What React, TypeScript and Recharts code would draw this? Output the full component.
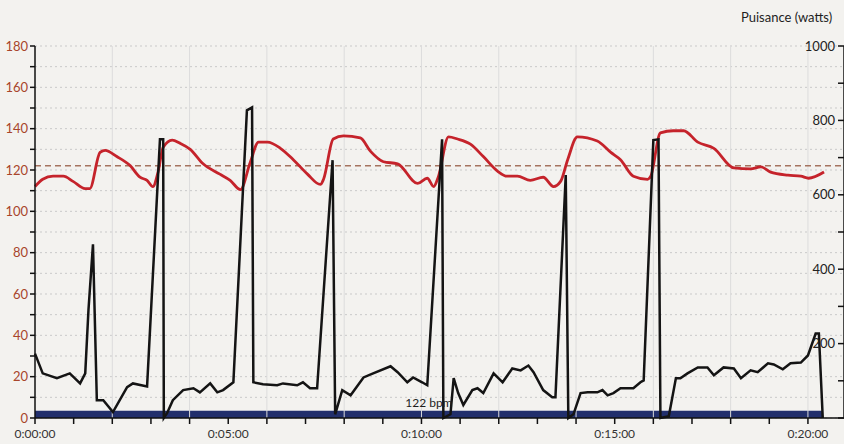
import { LineChart, Line, XAxis, YAxis, CartesianGrid, ReferenceLine, ReferenceArea } from 'recharts'

// heart rate, seconds since start -> bpm
const hrSeconds = [
  0, 12, 28, 44, 59, 78, 85, 101, 109, 127, 148, 163, 174, 183, 191, 199, 213, 225, 241, 261,
  287, 303, 319, 334, 347, 361, 381, 401, 423, 443, 448, 463, 479, 505, 521, 541, 563, 594, 609, 619,
  626, 642, 656, 676, 696, 718, 733, 749, 769, 789, 805, 816, 827, 842, 873, 894, 909, 929, 951, 956,
  971, 991, 1007, 1029, 1054, 1085, 1111, 1127, 1142, 1169, 1189, 1201, 1225,
]
const hrBpm = [
  112, 115.5, 117, 117, 114.5, 111, 111, 128.5, 129.5, 126.5, 122, 116.5, 115, 112, 119, 131, 134.5, 133, 130, 123,
  118, 115, 110.5, 123.5, 133.5, 133.5, 130.5, 125, 118, 113, 115.5, 135, 136.5, 135.5, 129, 124, 123, 113.5, 116, 112,
  116.5, 136, 135, 132.5, 126.5, 119.5, 117, 117, 115, 116.5, 112, 114.5, 125, 136, 134, 128.5, 125, 117, 115.5, 117,
  138, 139, 139, 133.5, 130.5, 121, 120.5, 121.5, 119, 117.5, 117, 116, 119,
]

// power, seconds since start -> watts
const powerSeconds = [
  0, 12, 34, 54, 70, 78, 83, 90, 96, 106, 121, 143, 152, 174, 194, 199, 200, 205, 214, 230, 246,
  256, 272, 283, 292, 308, 329, 337, 339, 354, 376, 385, 407, 416, 427, 438, 462, 466, 477, 490, 510,
  525, 552, 563, 578, 587, 601, 609, 632, 634, 645, 650, 657, 665, 679, 687, 696, 712, 726, 741, 754,
  766, 774, 789, 803, 808, 824, 828, 836, 847, 858, 873, 881, 889, 898, 909, 929, 940, 945, 960, 968,
  971, 984, 995, 1002, 1013, 1029, 1044, 1054, 1069, 1085, 1096, 1111, 1122, 1138, 1147, 1161, 1173, 1189, 1200, 1212,
  1217, 1223,
]
const powerWatts = [
  173, 120, 107, 120, 93, 120, 290, 467, 48, 48, 16, 83, 93, 85, 749, 749, 0, 13, 48, 75, 80,
  69, 93, 69, 75, 96, 827, 835, 96, 91, 88, 93, 88, 96, 80, 80, 693, 10, 75, 61, 109,
  120, 139, 123, 96, 109, 96, 88, 749, 0, 10, 107, 67, 35, 75, 80, 67, 120, 96, 133, 128,
  141, 123, 75, 56, 56, 653, 0, 10, 67, 69, 69, 75, 61, 67, 80, 80, 96, 101, 747, 749,
  0, 5, 107, 107, 120, 136, 136, 115, 136, 133, 107, 128, 123, 147, 144, 131, 147, 149, 168, 227,
  227, 0,
]

const bpmTicks = [0, 10, 20, 30, 40, 50, 60, 70, 80, 90, 100, 110, 120, 130, 140, 150, 160, 170, 180]
const wattTicks = [0, 100, 200, 300, 400, 500, 600, 700, 800, 900, 1000]
const timeTicks = [0, 60, 120, 180, 240, 300, 360, 420, 480, 540, 600, 660, 720, 780, 840, 900, 960, 1020, 1080, 1140, 1200]
const gridSeconds = [120, 240, 360, 480, 600, 720, 840, 960, 1080, 1200]
const thresholdBpm = 122
const sessionEnd = 1223

type Row = { t: number; hr?: number; power?: number }

const rowMap = new Map<number, Row>()
hrSeconds.forEach((t, i) => {
  rowMap.set(t, { ...(rowMap.get(t) || { t }), hr: hrBpm[i] })
})
powerSeconds.forEach((t, i) => {
  rowMap.set(t, { ...(rowMap.get(t) || { t }), power: powerWatts[i] })
})
const rows = Array.from(rowMap.values()).sort((a, b) => a.t - b.t)

const formatTime = (s: number) => {
  if (s % 300 !== 0) return ''
  const m = Math.round(s / 60)
  return `0:${m < 10 ? '0' + m : m}:00`
}

const font = 'Lato, "Open Sans", sans-serif'

export default function App() {
  return (
    <div style={{ position: 'fixed', left: 0, top: 0, width: 844, height: 444, background: '#f3f2ef', fontFamily: font }}>
      <div style={{ position: 'absolute', left: 741, top: 9, fontSize: 13, color: '#1e1e1e' }}>Puisance (watts)</div>
      <LineChart width={844} height={444} data={rows} margin={{ top: 46, right: 0, bottom: 0, left: 0 }}>
        <CartesianGrid yAxisId="hr" vertical={false} stroke="#c9c9c9" strokeDasharray="2 3" />
        {gridSeconds.map((t) => (
          <ReferenceLine key={t} yAxisId="hr" x={t} stroke="#dcdcdc" strokeWidth={1} />
        ))}
        <XAxis
          dataKey="t"
          type="number"
          domain={[0, 1256]}
          ticks={timeTicks}
          tickFormatter={formatTime}
          interval={0}
          height={26}
          tickSize={6}
          tickMargin={5}
          stroke="#111"
          strokeWidth={1.5}
          tick={{ fill: '#333', fontSize: 12, fontFamily: font }}
        />
        <YAxis
          yAxisId="hr"
          domain={[0, 180]}
          ticks={bpmTicks}
          interval={0}
          width={35}
          tickSize={5}
          tickMargin={2}
          stroke="#111"
          strokeWidth={1.5}
          tickFormatter={(v: number) => (v % 20 === 0 ? String(v) : '')}
          tick={{ fill: '#a8452b', fontSize: 13, fontFamily: font }}
        />
        <YAxis
          yAxisId="watts"
          orientation="right"
          mirror
          domain={[0, 1000]}
          ticks={wattTicks}
          interval={0}
          width={1}
          tickSize={6}
          tickMargin={3}
          stroke="#111"
          strokeWidth={1.5}
          tickFormatter={(v: number) => (v % 200 === 0 && v > 0 ? String(v) : '')}
          tick={{ fill: '#222', fontSize: 13, fontFamily: font }}
        />
        <ReferenceLine yAxisId="hr" y={thresholdBpm} stroke="#a5735f" strokeWidth={1.5} strokeDasharray="6 4" />
        <Line
          yAxisId="hr"
          dataKey="hr"
          type="monotone"
          stroke="#c5232b"
          strokeWidth={2.8}
          dot={false}
          connectNulls
          isAnimationActive={false}
        />
        <Line
          yAxisId="watts"
          dataKey="power"
          type="linear"
          stroke="#141414"
          strokeWidth={2.5}
          dot={false}
          connectNulls
          isAnimationActive={false}
        />
        <ReferenceArea
          yAxisId="hr"
          x1={0}
          x2={sessionEnd}
          y1={0}
          y2={3.5}
          fill="#222f6c"
          fillOpacity={1}
          stroke="none"
          label={{ value: `${thresholdBpm} bpm`, position: 'top', fill: '#1e1e1e', fontSize: 12, fontFamily: font, offset: 4 }}
        />
      </LineChart>
    </div>
  )
}
